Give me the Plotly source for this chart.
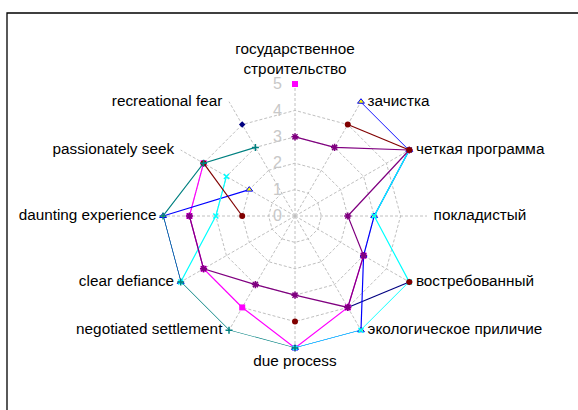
import plotly.graph_objects as go

categories = [
    "государственное<br>строительство", "зачистка", "четкая программа", "покладистый",
    "востребованный", "экологическое приличие", "due process", "negotiated settlement",
    "clear defiance", "daunting experience", "passionately seek", "recreational fear",
]
label_positions = [
    "top center", "middle right", "middle right", "middle right", "middle right",
    "middle right", "bottom center", "middle left", "middle left", "middle left",
    "middle left", "middle left",
]
N = None
navy_vals = [N, N, N, N, 5, 4, N, N, N, N, N, 4]
magenta_vals = [5, N, N, N, 3, 4, 5, 4, 4, 4, 4, N]
blue_vals = [N, 5, 5, 3, 3, 5, 5, N, 5, 5, 2, N]
cyan_vals = [N, N, 5, 3, 5, 5, 5, N, 5, 3, 3, N]
purple_vals = [3, 3, 5, 2, 3, 4, 3, 3, 4, 4, N, N]
darkred_vals = [N, 4, 5, N, 5, N, 4, N, N, 2, 4, N]
teal_vals = [N, N, N, N, N, N, 5, 5, 5, 5, 4, 3]
radial_ticks = [0, 1, 2, 3, 4, 5]
r_max = 5

series = [
    ("navy", navy_vals, "#000080", dict(symbol="diamond", size=5, color="#000080")),
    ("magenta", magenta_vals, "#FF00FF", dict(symbol="square", size=6, color="#FF00FF")),
    ("blue", blue_vals, "#0000FF", dict(symbol="triangle-up", size=6, color="#FFFF00",
                                        line=dict(color="#0000FF", width=1))),
    ("cyan", cyan_vals, "#00FFFF", dict(symbol="x-thin-open", size=5,
                                        line=dict(color="#00FFFF", width=1.5))),
    ("purple", purple_vals, "#800080", dict(symbol="asterisk-open", size=6,
                                            line=dict(color="#800080", width=1.5))),
    ("darkred", darkred_vals, "#800000", dict(symbol="circle", size=6, color="#800000")),
    ("teal", teal_vals, "#008080", dict(symbol="cross-thin-open", size=5,
                                        line=dict(color="#008080", width=1.5))),
]

fig = go.Figure()
for name, vals, col, mk in series:
    fig.add_trace(go.Scatterpolar(
        r=vals, theta=categories, mode="lines+markers", name=name,
        line=dict(color=col, width=1.2), marker=mk, connectgaps=False,
        cliponaxis=False,
    ))

# category labels placed beside each outer vertex, as in the original
fig.add_trace(go.Scatterpolar(
    r=[r_max] * len(categories), theta=categories, mode="markers+text",
    text=categories, textposition=label_positions,
    marker=dict(size=9, opacity=0), textfont=dict(size=15.3, color="black"),
    cliponaxis=False, hoverinfo="skip",
))

fig.update_layout(
    width=578, height=410,
    margin=dict(l=0, r=0, t=0, b=0),
    paper_bgcolor="white",
    showlegend=False,
    font=dict(family="Liberation Sans, Arial, sans-serif", size=15.3, color="black"),
    polar=dict(
        domain=dict(x=[163 / 578, 427 / 578], y=[1 - 348 / 410, 1 - 84 / 410]),
        bgcolor="white",
        gridshape="linear",
        radialaxis=dict(
            range=[0, 5.001], tickvals=radial_ticks, angle=90, showline=False,
            gridcolor="#c0c0c0", griddash="3px,2px", gridwidth=1, tickangle=90,
            tickfont=dict(size=16, color="#c8c8c8"),
            ticks="outside", ticklen=7, tickcolor="rgba(0,0,0,0)",
            side="counterclockwise",
        ),
        angularaxis=dict(
            direction="clockwise", rotation=90, showline=False,
            gridcolor="#c0c0c0", griddash="3px,2px", ticks="",
            showticklabels=False,
        ),
    ),
    shapes=[dict(type="rect", xref="paper", yref="paper", x0=7 / 578, x1=1.05,
                 y0=-0.05, y1=1 - 13 / 410, line=dict(color="black", width=1.3))],
)

fig.write_html("out.html", post_script="document.body.style.margin='0px';",
               config={"displayModeBar": False})
